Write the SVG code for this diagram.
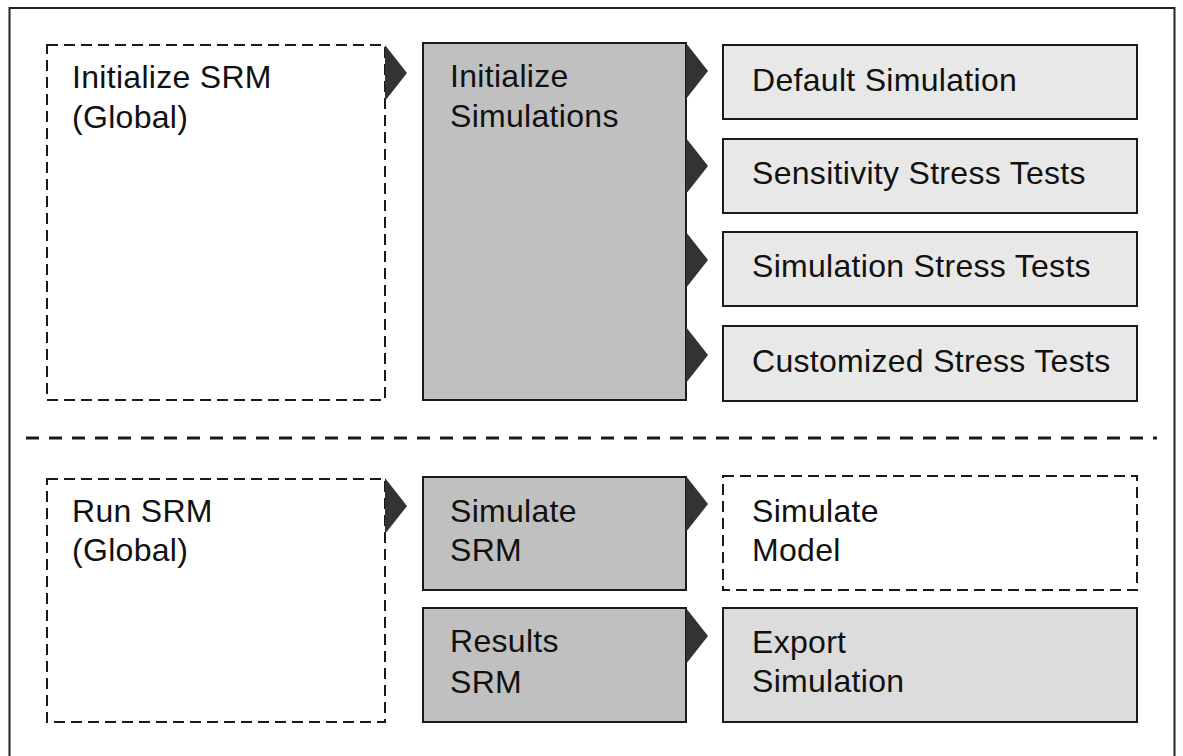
<svg xmlns="http://www.w3.org/2000/svg" width="1183" height="756" viewBox="0 0 1183 756">
  <defs>
    <style>
      .frame { fill: #ffffff; stroke: #222222; stroke-width: 2; }
      .dashed { fill: #ffffff; stroke: #1a1a1a; stroke-width: 2; stroke-dasharray: 11 6; }
      .solid { stroke: #1a1a1a; stroke-width: 2; }
      .dark { fill: #c0c0c0; }
      .light { fill: #e8e8e8; }
      .mid { fill: #dcdcdc; }
      .sep { stroke: #1a1a1a; stroke-width: 3; stroke-dasharray: 13 10; fill: none; }
      .arrow { fill: #333333; }
      text { font-family: "Liberation Sans", Arial, sans-serif; font-size: 32px; fill: #111111; letter-spacing: 0.3px; }
    </style>
    <!-- connector head: a flat-backed wedge hung on the source box's right edge -->
    <polygon id="wedge" points="0,0 22,28 0,56" />
  </defs>

  <rect class="frame" x="9.5" y="8" width="1165" height="760" />

  <!-- section divider -->
  <line class="sep" x1="26" y1="438" x2="1157" y2="438" />

  <!-- upper section: initialization -->
  <g id="init-srm">
    <rect class="dashed" x="47" y="45" width="338" height="355" />
    <text x="72" y="88">Initialize SRM</text>
    <text x="72" y="128">(Global)</text>
  </g>
  <g id="init-simulations">
    <rect class="solid dark" x="423" y="43" width="263" height="357" />
    <text x="450" y="87">Initialize</text>
    <text x="450" y="127">Simulations</text>
  </g>
  <g id="default-simulation">
    <rect class="solid light" x="723" y="45" width="414" height="74" />
    <text x="752" y="91">Default Simulation</text>
  </g>
  <g id="sensitivity-stress-tests">
    <rect class="solid light" x="723" y="139" width="414" height="74" />
    <text x="752" y="184">Sensitivity Stress Tests</text>
  </g>
  <g id="simulation-stress-tests">
    <rect class="solid light" x="723" y="232" width="414" height="74" />
    <text x="752" y="277">Simulation Stress Tests</text>
  </g>
  <g id="customized-stress-tests">
    <rect class="solid light" x="723" y="326" width="414" height="75" />
    <text x="752" y="372">Customized Stress Tests</text>
  </g>

  <!-- lower section: execution -->
  <g id="run-srm">
    <rect class="dashed" x="47" y="479" width="338" height="243" />
    <text x="72" y="522">Run SRM</text>
    <text x="72" y="561">(Global)</text>
  </g>
  <g id="simulate-srm">
    <rect class="solid dark" x="423" y="477" width="263" height="113" />
    <text x="450" y="522">Simulate</text>
    <text x="450" y="561">SRM</text>
  </g>
  <g id="results-srm">
    <rect class="solid dark" x="423" y="608" width="263" height="114" />
    <text x="450" y="652">Results</text>
    <text x="450" y="693">SRM</text>
  </g>
  <g id="simulate-model">
    <rect class="dashed" x="723" y="476" width="414" height="114" />
    <text x="752" y="522">Simulate</text>
    <text x="752" y="561">Model</text>
  </g>
  <g id="export-simulation">
    <rect class="solid mid" x="723" y="608" width="414" height="114" />
    <text x="752" y="653">Export</text>
    <text x="752" y="692">Simulation</text>
  </g>

  <!-- connectors -->
  <g id="connectors" class="arrow">
    <use href="#wedge" x="385" y="45" />
    <use href="#wedge" x="686" y="43" />
    <use href="#wedge" x="686" y="138" />
    <use href="#wedge" x="686" y="232" />
    <use href="#wedge" x="686" y="327" />
    <use href="#wedge" x="385" y="478" />
    <use href="#wedge" x="686" y="476" />
    <use href="#wedge" x="686" y="608" />
  </g>
</svg>
